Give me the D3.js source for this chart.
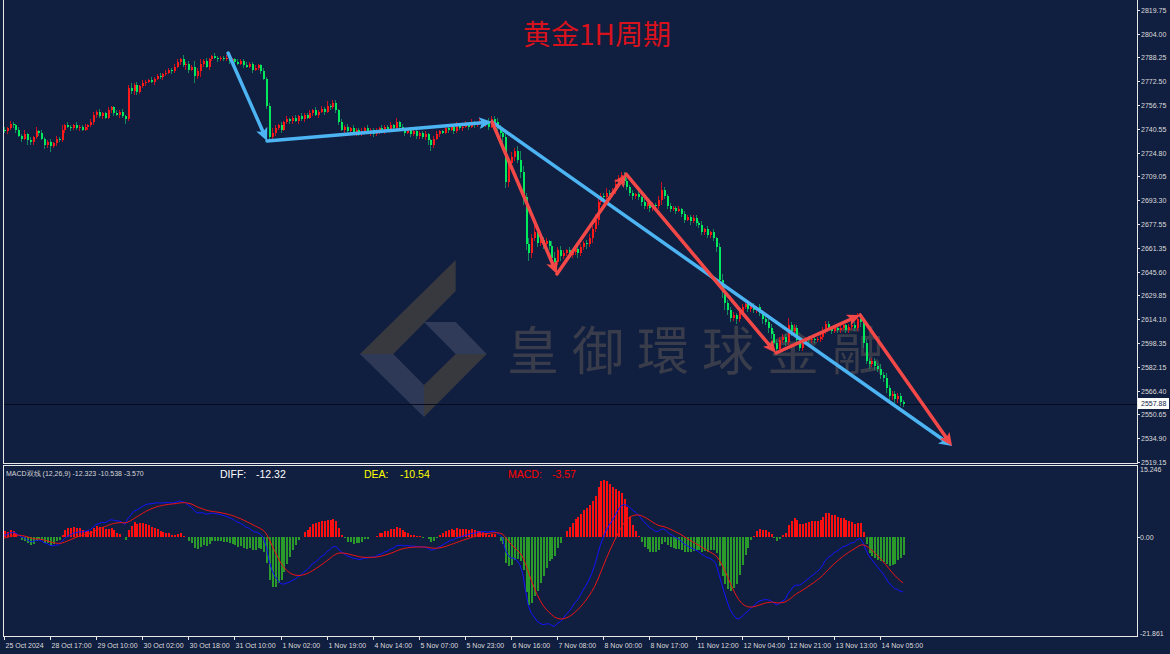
<!DOCTYPE html>
<html>
<head>
<meta charset="utf-8">
<script src="https://cdn.jsdelivr.net/npm/d3@7"></script>
<style>
html, body { margin: 0; padding: 0; background: #101e3f; }
svg { display: block; }
text { font-family: "Liberation Sans", Arial, sans-serif; }
</style>
</head>
<body>
<svg id="chart" width="1170" height="654"></svg>
<script>
// XAUUSD 1H closes
var firstOpen = 2740;
var closes = [
2739,2741,2744,2743,2740,2736,2734,2737,2733,2732,
2735,2739,2738,2734,2730,2732,2729,2731,2734,2733,
2740,2743,2742,2741,2743,2741,2742,2740,2742,2743,
2745,2750,2752,2749,2751,2748,2753,2755,2751,2750,
2752,2749,2747,2768,2766,2770,2765,2769,2771,2772,
2773,2772,2774,2776,2775,2777,2778,2780,2779,2782,
2785,2787,2783,2784,2780,2782,2776,2779,2784,2786,
2782,2787,2789,2788,2787,2788,2787,2788,2786,2787,
2785,2784,2786,2783,2782,2784,2780,2781,2783,2779,
2774,2756,2735,2738,2741,2743,2740,2745,2747,2746,
2748,2746,2749,2747,2750,2748,2751,2753,2750,2752,
2754,2752,2756,2755,2758,2753,2745,2740,2742,2739,
2741,2738,2740,2737,2739,2741,2738,2740,2737,2739,
2741,2739,2742,2740,2743,2741,2745,2742,2740,2738,
2740,2737,2739,2736,2738,2735,2737,2733,2730,2734,
2737,2739,2738,2741,2740,2742,2739,2743,2741,2742,
2744,2742,2745,2743,2744,2746,2743,2745,2742,2747,
2745,2741,2738,2735,2705,2718,2722,2726,2720,2712,
2695,2664,2658,2668,2672,2665,2667,2664,2666,2663,
2655,2652,2660,2656,2658,2660,2657,2659,2661,2658,
2662,2665,2664,2668,2674,2680,2692,2696,2695,2698,
2697,2699,2704,2708,2710,2706,2702,2698,2696,2697,
2695,2692,2689,2691,2688,2690,2689,2693,2700,2696,
2689,2687,2688,2686,2687,2684,2680,2682,2679,2681,
2678,2677,2672,2674,2670,2672,2668,2662,2640,2632,
2625,2620,2615,2617,2614,2619,2622,2624,2621,2623,
2620,2622,2618,2614,2612,2608,2604,2598,2594,2600,
2602,2599,2610,2606,2608,2600,2595,2599,2601,2600,
2601,2600,2601,2602,2606,2611,2608,2606,2608,2607,
2608,2610,2607,2609,2610,2608,2614,2612,2598,2586,
2584,2586,2583,2581,2577,2575,2568,2563,2564,2561,
2563,2559,2557.88
];
// wick lengths above / below the body
var wickUp = [
2,1,2,1,1,2,1,3,1,2, 1,3,1,2,1,1,2,1,2,1, 3,1,2,1,1,2,1,1,2,1, 2,2,1,2,1,1,2,1,1,2,
1,2,1,2,3,1,2,1,2,1, 1,2,1,1,2,1,2,1,1,2, 2,1,3,1,2,1,4,2,3,1, 2,1,1,2,1,1,1,2,1,1,
1,2,1,1,2,1,1,2,1,1, 2,1,2,3,2,1,2,1,2,1, 1,2,1,2,1,1,2,1,2,1, 2,1,3,1,2,2,1,2,1,2,
1,2,1,1,2,1,2,1,1,2, 1,2,1,1,2,1,3,1,2,1, 1,2,1,2,1,1,2,1,1,2, 2,1,1,2,1,2,1,2,1,1,
2,1,2,1,1,2,1,1,3,2, 2,3,2,4,3,4,3,2,3,6, 4,3,4,3,5,2,3,2,2,1, 3,4,2,3,2,1,2,2,1,2,
2,1,2,3,2,4,3,2,2,3, 2,2,3,2,2,2,2,1,2,1, 2,1,2,2,1,2,1,3,5,2, 1,2,1,1,2,1,2,1,1,2,
2,1,2,1,2,1,2,1,3,4, 4,2,2,2,1,2,2,1,2,1, 2,1,2,2,2,2,3,2,3,2, 2,2,5,2,3,2,2,1,1,2,
1,1,1,2,3,2,2,1,2,1, 2,2,1,2,1,2,4,3,2,3, 2,2,2,2,3,2,3,2,2,2, 2,2,1
];
var wickDn = [
1,2,1,2,2,1,2,1,3,2, 2,1,2,1,3,2,4,1,2,1, 1,2,1,2,1,1,2,1,1,2, 1,2,2,1,2,1,1,2,2,1,
2,1,3,1,2,3,2,1,1,2, 1,1,2,1,1,2,1,1,2,1, 1,2,1,3,2,1,5,2,4,2, 1,2,1,1,2,1,1,1,2,1,
2,1,1,2,1,1,2,1,1,2, 1,2,3,2,2,1,2,1,1,2, 2,1,2,1,2,1,1,2,1,2, 1,2,1,2,1,2,2,1,2,2,
2,1,2,1,1,2,1,2,2,1, 2,1,2,1,1,2,1,2,1,2, 1,2,1,2,2,1,2,3,4,2, 1,2,1,1,2,1,2,1,1,2,
1,2,1,2,1,1,2,1,2,1, 2,2,3,4,4,3,2,3,2,4, 5,4,5,3,2,3,2,3,2,3, 4,5,2,3,2,2,3,2,2,3,
2,2,3,2,3,2,3,2,3,2, 2,2,2,2,2,3,2,2,3,2, 2,3,2,2,3,2,2,2,3,2, 2,2,1,2,1,2,2,1,2,1,
2,2,2,2,2,2,2,3,4,4, 5,3,3,2,3,2,2,1,2,2, 2,2,2,3,2,3,3,3,4,2, 2,3,2,3,2,3,2,2,2,2,
2,2,1,2,2,2,2,2,1,2, 2,1,2,2,2,2,2,3,3,2, 3,2,3,2,3,3,3,3,3,3, 3,3,2
];

var timeLabels = ["25 Oct 2024","28 Oct 17:00","29 Oct 10:00","30 Oct 02:00","30 Oct 18:00",
  "31 Oct 10:00","1 Nov 02:00","1 Nov 19:00","4 Nov 14:00","5 Nov 07:00","5 Nov 23:00",
  "6 Nov 16:00","7 Nov 08:00","8 Nov 00:00","8 Nov 17:00","11 Nov 12:00","12 Nov 04:00",
  "12 Nov 21:00","13 Nov 13:00","14 Nov 05:00"];
var timeLabelBars = [0,16,32,48,64,80,96,112,128,144,160,176,192,208,224,240,256,272,288,304];
var priceTicks = [2819.75,2804.00,2788.25,2772.50,2756.75,2740.55,2724.80,2709.05,2693.30,2677.55,
  2661.35,2645.60,2629.85,2614.10,2598.35,2582.15,2566.40,2550.65,2534.90,2519.15];
var macdTicks = [15.246, 0, -21.861];
var lastPrice = 2557.88;

// MACD state at the first visible bar and the header readout
var diffStart = 0.5, deaStart = -0.2;
var macdHeader = "MACD双线 (12,26,9) -12.323 -10.538 -3.570";
var macdReadout = [["DIFF:", "-12.32"], ["DEA:", "-10.54"], ["MACD:", "-3.57"]];

// trend arrows drawn on the chart: [bar index, price] pairs
var blueArrows = [
  [[77.8, 2791.1], [91.3, 2732.6]],
  [[91.3, 2732.6], [169.4, 2745.2]],
  [[169.4, 2745.2], [329.0, 2529.6]]
];
var redArrows = [
  [[169.4, 2745.2], [191.9, 2644.1]],
  [[191.9, 2644.1], [215.9, 2710.6]],
  [[215.9, 2710.6], [267.9, 2591.5]],
  [[267.9, 2591.5], [297.1, 2616.8]],
  [[297.1, 2616.8], [329.0, 2529.6]]
];

var svg = d3.select("#chart");
var W = 1170, H = 654;
var left = 3, right = 1137;
var mainTop = 0, mainBot = 463;
var macdTop = 465, macdBot = 636;

var x = d3.scaleLinear().domain([0, 312]).range([3.9, 3.9 + 2.882 * 312]);
var y = d3.scaleLinear().domain([2518.29, 2826.40]).range([mainBot, mainTop]);
var ym = d3.scaleLinear().domain([-21.861, 15.246]).range([632.7, 470.8]);

// candles
var candles = closes.map(function (c, i) {
  var o = i === 0 ? firstOpen : closes[i - 1];
  return {i: i, o: o, c: c, h: Math.max(o, c) + wickUp[i], l: Math.min(o, c) - wickDn[i]};
});

// MACD (12,26,9)
function ema(arr, n, seed) {
  var k = 2 / (n + 1), prev = seed;
  return arr.map(function (v, i) { prev = i === 0 ? seed : v * k + prev * (1 - k); return prev; });
}
var e12 = ema(closes, 12, closes[0]), e26 = ema(closes, 26, closes[0] - diffStart);
var diff = e12.map(function (v, i) { return v - e26[i]; });
var dea = ema(diff, 9, deaStart);
var hist = diff.map(function (v, i) { return 2 * (v - dea[i]); });

svg.append("rect").attr("width", W).attr("height", H).attr("fill", "#101e3f");

var defs = svg.append("defs");
defs.append("clipPath").attr("id", "clipMain").append("rect")
  .attr("x", left).attr("y", mainTop).attr("width", right - left).attr("height", mainBot - mainTop);
defs.append("clipPath").attr("id", "clipMacd").append("rect")
  .attr("x", left).attr("y", macdTop).attr("width", right - left).attr("height", macdBot - macdTop);

// watermark
var wm = svg.append("g");
wm.append("path").attr("d", "M455.7,260 L455.7,291 L393.3,354 L360,354 Z").attr("fill", "#38393f");
wm.append("path").attr("d", "M360,354 L393.3,354 L424,385 L424,417 Z").attr("fill", "#2d3956");
wm.append("path").attr("d", "M424,322 L455.7,322 L486.7,354 L455.7,354 Z").attr("fill", "#2f3b58");
wm.append("path").attr("d", "M455.7,354 L486.7,354 L424,417 L424,385 Z").attr("fill", "#38393f");
wm.append("text").attr("x", 507).attr("y", 370)
  .style("font-family", "'Noto Sans CJK TC','Noto Sans CJK SC',sans-serif")
  .style("font-size", "52px").style("letter-spacing", "13px")
  .attr("fill", "#393c4a").text("皇御環球金融");

// current price line
svg.append("line").attr("x1", left).attr("x2", right)
  .attr("y1", Math.round(y(lastPrice)) + 0.5).attr("y2", Math.round(y(lastPrice)) + 0.5)
  .attr("stroke", "#060c1e").attr("stroke-width", 1);

// candles
var cg = svg.append("g").attr("clip-path", "url(#clipMain)").attr("shape-rendering", "crispEdges");
cg.selectAll(".wick").data(candles).enter().append("line")
  .attr("x1", function (d) { return Math.round(x(d.i)) + 0.5; })
  .attr("x2", function (d) { return Math.round(x(d.i)) + 0.5; })
  .attr("y1", function (d) { return y(d.h); })
  .attr("y2", function (d) { return y(d.l); })
  .attr("stroke", function (d) { return d.c >= d.o ? "#c8101e" : "#138a5c"; });
cg.selectAll(".body").data(candles).enter().append("rect")
  .attr("x", function (d) { return Math.round(x(d.i)) - 0.5; })
  .attr("width", 2)
  .attr("y", function (d) { return y(Math.max(d.o, d.c)); })
  .attr("height", function (d) { return Math.max(1, Math.abs(y(d.o) - y(d.c))); })
  .attr("fill", function (d) { return d.c >= d.o ? "#ff1a1a" : "#00e85c"; });

// arrows
function drawArrow(g, seg, color) {
  var x0 = x(seg[0][0]), y0 = y(seg[0][1]), x1 = x(seg[1][0]), y1 = y(seg[1][1]);
  var dx = x1 - x0, dy = y1 - y0, len = Math.sqrt(dx * dx + dy * dy);
  var ux = dx / len, uy = dy / len, hl = 13, hw = 6;
  g.append("line").attr("x1", x0).attr("y1", y0)
    .attr("x2", x1 - ux * (hl - 3)).attr("y2", y1 - uy * (hl - 3))
    .attr("stroke", color).attr("stroke-width", 3.5).attr("stroke-linecap", "round");
  var bx = x1 - ux * hl, by = y1 - uy * hl;
  g.append("path").attr("fill", color)
    .attr("d", "M" + x1 + "," + y1 + " L" + (bx - uy * hw) + "," + (by + ux * hw) +
      " L" + (bx + ux * 3) + "," + (by + uy * 3) + " L" + (bx + uy * hw) + "," + (by - ux * hw) + " Z");
}
var ag = svg.append("g");
blueArrows.forEach(function (s) { drawArrow(ag, s, "#4cb4f2"); });
redArrows.forEach(function (s) { drawArrow(ag, s, "#f34848"); });

// title
svg.append("text").attr("x", 597).attr("y", 45).attr("text-anchor", "middle")
  .style("font-family", "'Noto Sans CJK SC',sans-serif").style("font-size", "28px")
  .style("font-weight", "400").attr("fill", "#d8121c").text("黄金1H周期");

// MACD panel
var mg = svg.append("g").attr("clip-path", "url(#clipMacd)");
mg.append("g").attr("shape-rendering", "crispEdges").selectAll("rect").data(hist).enter().append("rect")
  .attr("x", function (d, i) { return Math.round(x(i)) - 0.5; })
  .attr("width", 2)
  .attr("y", function (d) { return d >= 0 ? ym(d) : ym(0); })
  .attr("height", function (d) { return Math.abs(ym(d) - ym(0)); })
  .attr("fill", function (d) { return d >= 0 ? "#ff1010" : "#2a9a2a"; });
var line = d3.line().x(function (d, i) { return x(i); }).y(function (d) { return ym(d); });
mg.append("path").datum(diff).attr("d", line).attr("fill", "none").attr("stroke", "#1414ff").attr("stroke-width", 1);
mg.append("path").datum(dea).attr("d", line).attr("fill", "none").attr("stroke", "#ee1515").attr("stroke-width", 1);

svg.append("text").attr("x", 6).attr("y", 476).style("font-size", "7px").attr("fill", "#d8d8d8")
  .text(macdHeader);
var hdrX = [[220, 256], [364, 400], [508, 552]];
var hdrC = ["#ffffff", "#ffff00", "#ff0000"];
macdReadout.forEach(function (r, k) {
  svg.append("text").attr("x", hdrX[k][0]).attr("y", 477.5).style("font-size", "10.5px")
    .attr("fill", hdrC[k]).text(r[0]);
  svg.append("text").attr("x", hdrX[k][1]).attr("y", 477.5).style("font-size", "10.5px")
    .attr("fill", hdrC[k]).text(r[1]);
});

// frames
var fr = svg.append("g").attr("fill", "none").attr("stroke", "#e8e8e8").attr("stroke-width", 1)
  .attr("shape-rendering", "crispEdges");
fr.append("rect").attr("x", left + 0.5).attr("y", -1).attr("width", right - left).attr("height", mainBot + 1);
fr.append("rect").attr("x", left + 0.5).attr("y", macdTop + 0.5).attr("width", right - left).attr("height", macdBot - macdTop);

// price axis
var pa = svg.append("g").attr("shape-rendering", "crispEdges");
priceTicks.forEach(function (p) {
  var yy = Math.round(y(p)) + 0.5;
  pa.append("line").attr("x1", right).attr("x2", right + 3).attr("y1", yy).attr("y2", yy).attr("stroke", "#e8e8e8");
  pa.append("text").attr("x", right + 4).attr("y", yy).attr("dy", "0.35em")
    .style("font-size", "7px").attr("fill", "#dcdcdc").text(p.toFixed(2));
});
svg.append("rect").attr("x", right + 1).attr("y", y(lastPrice) - 5.5).attr("width", 31).attr("height", 11)
  .attr("fill", "#ffffff");
svg.append("text").attr("x", right + 4).attr("y", y(lastPrice)).attr("dy", "0.35em")
  .style("font-size", "7px").attr("fill", "#101e3f").text(lastPrice.toFixed(2));

// macd axis
macdTicks.forEach(function (v, k) {
  var yy = k === 0 ? 470 : Math.round(ym(v)) + 0.5;
  if (k === 1) pa.append("line").attr("x1", right).attr("x2", right + 3).attr("y1", yy).attr("y2", yy).attr("stroke", "#e8e8e8");
  svg.append("text").attr("x", right + 3).attr("y", yy).attr("dy", "0.35em")
    .style("font-size", "7px").attr("fill", "#dcdcdc").text(k === 1 ? "0.00" : v.toFixed(3));
});

// time axis
timeLabelBars.forEach(function (b, k) {
  var xx = Math.round(x(b)) + 0.5;
  pa.append("line").attr("x1", xx).attr("x2", xx).attr("y1", macdBot).attr("y2", macdBot + 4).attr("stroke", "#e8e8e8");
  svg.append("text").attr("x", xx + 1).attr("y", 648).style("font-size", "7px")
    .attr("fill", "#dcdcdc").text(timeLabels[k]);
});
</script>
</body>
</html>
